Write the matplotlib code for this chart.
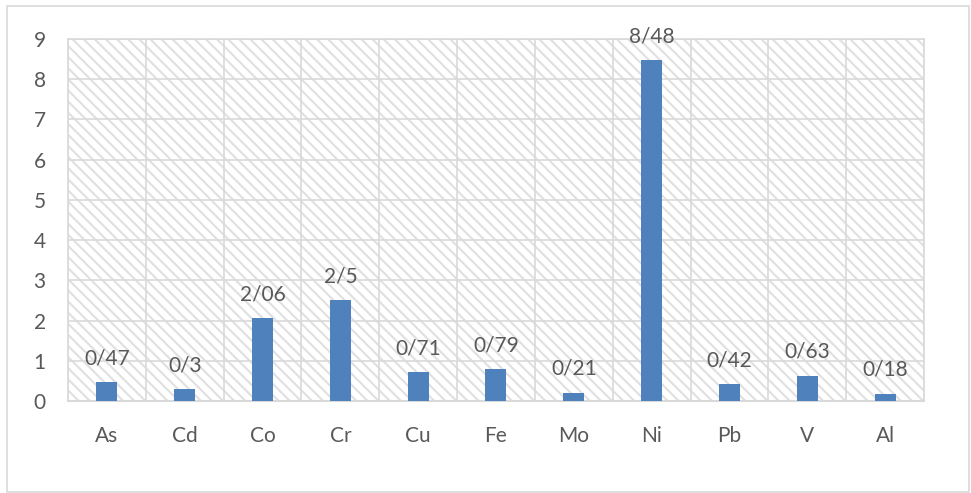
import matplotlib
matplotlib.use("Agg")
from matplotlib import pyplot as plt
from matplotlib.patches import Rectangle
import numpy as np

elements = ["As", "Cd", "Co", "Cr", "Cu", "Fe", "Mo", "Ni", "Pb", "V", "Al"]
valeurs = [0.47, 0.3, 2.06, 2.5, 0.71, 0.79, 0.21, 8.48, 0.42, 0.63, 0.18]
etiquettes = ["0/47", "0/3", "2/06", "2/5", "0/71", "0/79", "0/21", "8/48", "0/42", "0/63", "0/18"]
graduations_y = list(range(0, 10))

GRIS = "#d9d9d9"
TEXTE = "#595959"
BLEU = "#4f81bd"

plt.rcParams['font.family'] = ['Lato', 'DejaVu Sans']
plt.rcParams['hatch.color'] = "#e0e0e0"
plt.rcParams['hatch.linewidth'] = 1.5

fig = plt.figure(figsize=(9.71, 4.93), dpi=100)
fig.patches.append(Rectangle((7 / 971, 1 / 493), 962 / 971, 486 / 493, transform=fig.transFigure,
                             fill=False, edgecolor=GRIS, linewidth=1.2))
ax = fig.add_axes([0.070, 0.1866, 0.8816, 0.7343])

ax.patch.set_facecolor("white")
ax.patch.set_hatch("\\\\\\")
ax.patch.set_edgecolor("#e0e0e0")

x = np.arange(len(elements))
ax.bar(x, valeurs, width=0.27, color=BLEU, zorder=3)
for xi, v, lab in zip(x, valeurs, etiquettes):
    ax.annotate(lab, (xi, v), xytext=(0, 10), textcoords="offset points",
                ha="center", va="bottom", fontsize=15, color=TEXTE)

ax.set_xlim(-0.5, len(elements) - 0.5)
ax.set_ylim(0, 9)
ax.set_yticks(graduations_y)
ax.set_xticks(x)
ax.set_xticklabels(elements)
ax.set_xticks(np.arange(-0.5, len(elements)), minor=True)
ax.grid(True, which="minor", axis="x", color=GRIS, linewidth=1.2, zorder=1)
ax.grid(True, which="major", axis="y", color=GRIS, linewidth=1.2, zorder=1)
ax.set_axisbelow(True)
ax.tick_params(axis="both", which="both", length=0, labelsize=15, colors=TEXTE)
ax.tick_params(axis="x", pad=18)
ax.tick_params(axis="y", pad=16)
for s in ax.spines.values():
    s.set_color(GRIS)
    s.set_linewidth(1.2)
ax.spines["bottom"].set_linewidth(1.5)

fig.savefig("out.png", dpi=100)
